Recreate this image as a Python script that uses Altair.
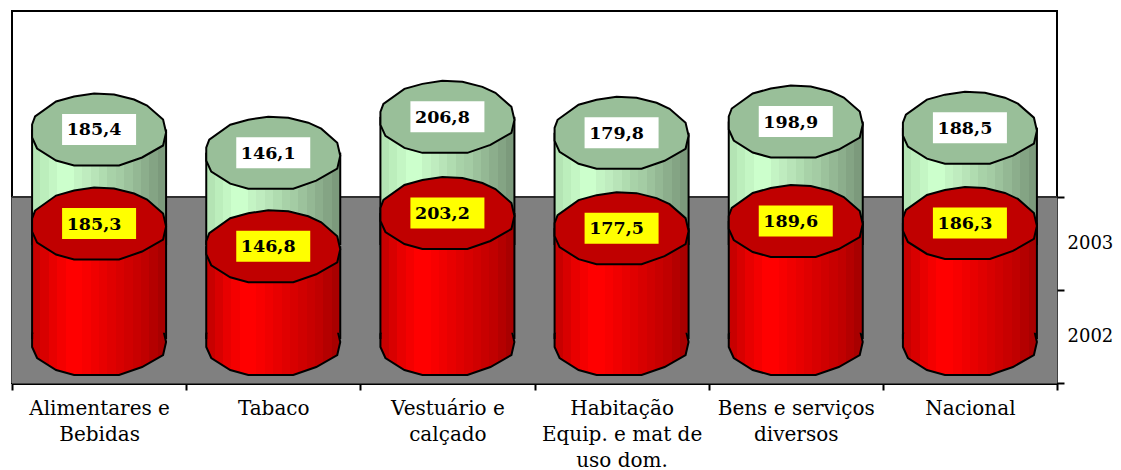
import altair as alt
import pandas as pd

categories = ["Alimentares e|Bebidas", "Tabaco", "Vestuário e|calçado",
              "Habitação|Equip. e mat de|uso dom.", "Bens e serviços|diversos", "Nacional"]
values_2002 = [185.3, 146.8, 203.2, 177.5, 189.6, 186.3]
values_2003 = [185.4, 146.1, 206.8, 179.8, 198.9, 188.5]
label_2002 = ["185,3", "146,8", "203,2", "177,5", "189,6", "186,3"]
label_2003 = ["185,4", "146,1", "206,8", "179,8", "198,9", "188,5"]
series = ["2003", "2002"]

red_slats = ["#c80000", "#d80000", "#e80000", "#f40000", "#ff0000", "#ff0000", "#f80000", "#f00000",
             "#e80000", "#e00000", "#d80000", "#d00000", "#c80000", "#c00000", "#b40000", "#a80000"]
green_slats = ["#b4e4b4", "#bceebc", "#c4f6c4", "#ccffcc", "#ccffcc", "#c4f4c4", "#bfecbf", "#b8e4b8",
               "#b0dcb0", "#a8d2a8", "#a4cca4", "#9cc29c", "#94b894", "#8cae8c", "#84a484", "#7c9a7c"]

FONT = "DejaVu Serif"
W, H = 1045, 372
FLOOR_TOP = 186
BASE_2002 = 328
DEPTH = 94
BODY_W = 134


def gradient(slats):
    stops = []
    n = len(slats)
    for i, c in enumerate(slats):
        stops.append({"offset": i / n, "color": c})
        stops.append({"offset": (i + 1) / n, "color": c})
    return {"gradient": "linear", "x1": 0, "x2": 1, "y1": 0, "y2": 0, "stops": stops}


ellipse = [(-67, -5), (-64, -13), (-43, -28), (-25, -33), (-5, -36), (15, -35), (35, -30), (48, -24),
           (64, -10), (67, 3), (64, 16), (43, 28), (20, 36), (-25, 36), (-43, 31), (-62, 19), (-67, 8)]
CAP = "M" + " L".join(f"{a},{b}" for a, b in ellipse) + " Z"
BOX = "M-37,-15.5 L37,-15.5 L37,15.5 L-37,15.5 Z"

df = pd.DataFrame({"cat": categories, "v02": values_2002, "v03": values_2003,
                   "t02": label_2002, "t03": label_2003})
floor_df = pd.DataFrame({"s": series})

yscale = alt.Scale(domain=[-85, 545.6], range=[H, 0], nice=False, zero=False)
xenc = alt.X("cat:N", title=None,
             scale=alt.Scale(domain=categories, paddingInner=0, paddingOuter=0),
             axis=alt.Axis(labelExpr="split(datum.label,'|')", labelAngle=0, labelFont=FONT, labelFontSize=20,
                           labelColor="black", labelLineHeight=26, labelPadding=8, tickBand="extent",
                           tickColor="black", tickSize=7, tickWidth=2, domainColor="black", domainWidth=3,
                           labelAlign="center", grid=False))


def Y(field):
    return alt.Y(f"{field}:Q", scale=yscale, axis=None)


def cylinder(field, text, slats, cap_color, box_color, base, offset):
    base_enc = alt.value(base)
    grad = gradient(slats)
    b = alt.Chart(df).encode(x=xenc)
    layers = []
    if offset == 0:
        layers.append(b.mark_point(shape=CAP, size=4, filled=True, fill=grad, stroke="black", strokeWidth=2,
                                   opacity=1).encode(y=base_enc))
    layers += [
        b.mark_bar(width=BODY_W, fill=grad, yOffset=offset).encode(y=Y(field), y2=base_enc),
        b.mark_rule(color="black", strokeWidth=2, xOffset=-BODY_W / 2, yOffset=offset).encode(y=Y(field), y2=base_enc),
        b.mark_rule(color="black", strokeWidth=2, xOffset=BODY_W / 2, yOffset=offset).encode(y=Y(field), y2=base_enc),
        b.mark_point(shape=CAP, size=4, filled=True, fill=cap_color, stroke="black", strokeWidth=2, opacity=1,
                     yOffset=offset).encode(y=Y(field)),
        b.mark_point(shape=BOX, size=4, filled=True, fill=box_color, strokeWidth=0, opacity=1,
                     yOffset=offset).encode(y=Y(field)),
        b.mark_text(font=FONT, fontWeight="bold", fontSize=17.5, color="black", xOffset=-5, yOffset=offset + 1,
                    baseline="middle").encode(y=Y(field), text=f"{text}:N"),
    ]
    return layers


floor = alt.Chart(floor_df).mark_rect(color="#808080", stroke="#808080", strokeWidth=1, opacity=1).encode(
    x=alt.value(0), x2=alt.value(W),
    y=alt.Y("s:N", title=None,
            scale=alt.Scale(domain=series, range=[FLOOR_TOP, H], paddingInner=0, paddingOuter=0),
            axis=alt.Axis(orient="right", domain=False, labelFont=FONT, labelFontSize=18, labelColor="black",
                          labelPadding=3, tickBand="extent", tickColor="black", tickSize=7, tickWidth=2,
                          grid=False, labelAngle=0)),
)
floor_line = alt.Chart(floor_df.head(1)).mark_rule(color="#303030", strokeWidth=2).encode(
    x=alt.value(0), x2=alt.value(W), y=alt.value(FLOOR_TOP))

value_layers = (cylinder("v03", "t03", green_slats, "#99bf99", "white", BASE_2002 - DEPTH, -DEPTH)
                + cylinder("v02", "t02", red_slats, "#c00000", "#ffff00", BASE_2002, 0))

chart = alt.layer(floor, floor_line, alt.layer(*value_layers)).resolve_scale(y="independent").properties(
    width=W, height=H, padding={"left": 4, "top": 3, "right": 56, "bottom": 87},
    autosize=alt.AutoSizeParams(type="none", contains="content"),
    background="white",
).configure_view(stroke="black", strokeWidth=2)

chart.save("out.html", embed_options={"renderer": "svg", "actions": False})
